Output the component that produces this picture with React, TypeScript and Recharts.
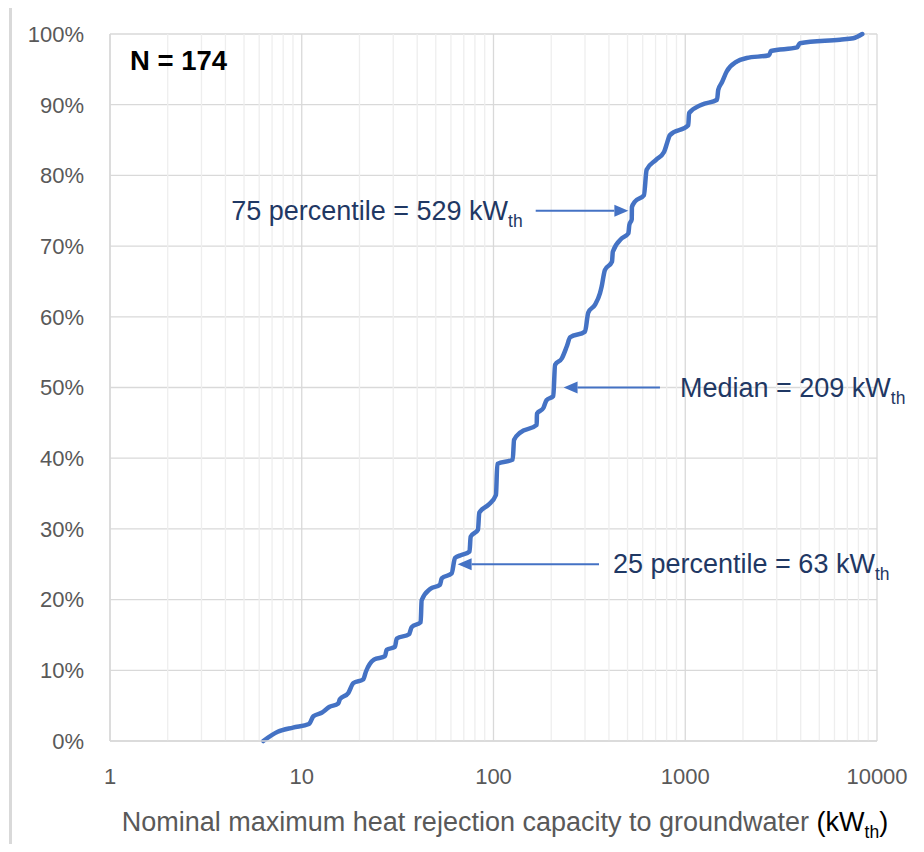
import React from 'react';
import { LineChart, Line, XAxis, YAxis, CartesianGrid, ReferenceLine } from 'recharts';

// Cumulative distribution of nominal heat rejection capacity (kW_th)
const capacityKw = [
  6.3, 7.5, 9.0, 10.9, 11.5, 12.7, 13.9, 15.5, 15.8, 17.5,
  18.6, 20.9, 21.6, 23.8, 27.2, 27.7, 30.6, 31.3, 36.3, 37.4,
  41.7, 42.2, 46.7, 52.6, 53.7, 60.5, 63, 68, 75, 76,
  83, 84.3, 94, 103, 104.7, 126, 128, 137.5, 168, 168.5,
  182, 189, 205, 209.5, 227, 241, 251, 300, 312, 338,
  359, 366, 381, 415, 419, 467, 505, 511, 526, 527,
  547, 609, 629, 704, 775, 800, 832, 1037, 1047, 1218,
  1465, 1486, 1549, 1645, 1855, 2090, 2735, 2800, 3830, 3963,
  6410, 7520, 8380,
];
const cumulativePct = [
  0, 1.3, 1.9, 2.4, 3.5, 4.0, 4.8, 5.3, 5.9, 6.8,
  8.2, 8.7, 9.8, 11.5, 12.0, 12.9, 13.3, 14.5, 15.1, 16.1,
  16.8, 19.9, 21.5, 22.1, 23.0, 23.7, 25.9, 26.3, 26.8, 28.9,
  29.9, 32.3, 33.4, 34.8, 39.2, 39.8, 42.6, 43.6, 44.7, 46.3,
  47.1, 48.2, 48.8, 53.2, 54.1, 55.8, 57.1, 57.9, 60.6, 61.7,
  63.3, 64.2, 66.6, 67.8, 69.2, 71.1, 71.8, 73.0, 73.8, 75.5,
  76.3, 77.2, 80.8, 82.2, 83.3, 84.4, 85.7, 87.1, 88.8, 90.0,
  90.7, 92.1, 93.1, 94.7, 96.1, 96.6, 97.0, 97.6, 98.1, 98.7,
  99.2, 99.4, 100,
];

const xTicks = [1, 10, 100, 1000, 10000];
const yTicks = [0, 10, 20, 30, 40, 50, 60, 70, 80, 90, 100];
const minorX = [
  2, 3, 4, 5, 6, 7, 8, 9,
  20, 30, 40, 50, 60, 70, 80, 90,
  200, 300, 400, 500, 600, 700, 800, 900,
  2000, 3000, 4000, 5000, 6000, 7000, 8000, 9000,
];

// Percentile call-outs: arrow runs from `from` to `to` (kW) at level `pct`
const percentileLabels = ['75 percentile = 529 kW', 'Median = 209 kW', '25 percentile = 63 kW'];
const percentileLevels = [75, 50, 25];
const arrowFrom = [166, 738, 355];
const arrowTo = [505, 232, 65];

const rows = capacityKw.map((kw, i) => ({ kw, pct: cumulativePct[i] }));

const FONT = '"Liberation Sans", Arial, Helvetica, sans-serif';
const BLUE = '#4472C4';
const NAVY = '#1F3864';
const GRID = '#d9d9d9';
const MINOR = '#eeeeee';
const AXIS_TEXT = '#595959';

const makeArrow = (label: string, textSide: 'left' | 'right', gap: number) => (props: any) => {
  const { x1, y1, x2, y2 } = props;
  const dir = Math.sign(x2 - x1);
  const headLen = 14;
  const halfW = 6;
  const baseX = x2 - dir * headLen;
  const textX = textSide === 'left' ? x1 - gap : x1 + gap;
  return (
    <g>
      <line x1={x1} y1={y1} x2={baseX} y2={y2} stroke={BLUE} strokeWidth={2} />
      <polygon points={`${x2},${y2} ${baseX},${y2 - halfW} ${baseX},${y2 + halfW}`} fill={BLUE} />
      <text
        x={textX}
        y={y1 + 9}
        textAnchor={textSide === 'left' ? 'end' : 'start'}
        fill={NAVY}
        fontSize={27}
        fontFamily={FONT}
      >
        {label}
        <tspan dy={7} fontSize={17.5}>th</tspan>
      </text>
    </g>
  );
};

const arrowSides: ('left' | 'right')[] = ['left', 'right', 'right'];
const arrowGaps = [13, 20, 14];

export default function App() {
  return (
    <div
      style={{
        position: 'relative',
        width: 924,
        height: 852,
        margin: -8,
        overflow: 'hidden',
        background: '#ffffff',
        fontFamily: FONT,
      }}
    >
      <div
        style={{
          position: 'absolute',
          left: 9,
          top: 5,
          width: 960,
          height: 920,
          border: `3px solid ${GRID}`,
          boxSizing: 'border-box',
        }}
      />
      <div style={{ position: 'absolute', left: 0, top: 0 }}>
        <LineChart
          width={924}
          height={852}
          data={rows}
          margin={{ top: 34, right: 47, bottom: 51, left: 10 }}
        >
          {minorX.map((v) => (
            <ReferenceLine key={`m${v}`} x={v} stroke={MINOR} strokeWidth={1.3} />
          ))}
          <CartesianGrid stroke={GRID} strokeWidth={1.3} />
          <XAxis
            dataKey="kw"
            type="number"
            scale="log"
            domain={[1, 10000]}
            ticks={xTicks}
            allowDataOverflow
            height={60}
            axisLine={{ stroke: GRID, strokeWidth: 1.5 }}
            tickLine={false}
            tickSize={0}
            tickMargin={27}
            tick={{ fill: AXIS_TEXT, fontSize: 22, fontFamily: FONT }}
            interval={0}
          />
          <YAxis
            type="number"
            domain={[0, 100]}
            ticks={yTicks}
            width={100}
            axisLine={{ stroke: GRID, strokeWidth: 1.5 }}
            tickLine={false}
            tickSize={0}
            tickMargin={26}
            tickFormatter={(v: number) => `${v}%`}
            tick={{ fill: AXIS_TEXT, fontSize: 22, fontFamily: FONT }}
            interval={0}
          />
          <Line
            type="monotone"
            dataKey="pct"
            stroke={BLUE}
            strokeWidth={4.5}
            strokeLinecap="round"
            strokeLinejoin="round"
            dot={false}
            activeDot={false}
            isAnimationActive={false}
          />
          {percentileLabels.map((label, i) => (
            <ReferenceLine
              key={label}
              segment={[
                { x: arrowFrom[i], y: percentileLevels[i] },
                { x: arrowTo[i], y: percentileLevels[i] },
              ]}
              shape={makeArrow(label, arrowSides[i], arrowGaps[i])}
            />
          ))}
        </LineChart>
      </div>
      <svg
        width={924}
        height={852}
        style={{ position: 'absolute', left: 0, top: 0, pointerEvents: 'none' }}
      >
        <text x={130} y={70} fontSize={27.5} fontWeight="bold" fill="#000000" fontFamily={FONT}>
          N = 174
        </text>
        <text x={505} y={831} textAnchor="middle" fontSize={27} fontFamily={FONT}>
          <tspan fill={AXIS_TEXT}>Nominal maximum heat rejection capacity to groundwater </tspan>
          <tspan fill="#000000">(kW</tspan>
          <tspan fill="#000000" dy={7} fontSize={17.5}>th</tspan>
          <tspan fill="#000000" dy={-7}>)</tspan>
        </text>
      </svg>
    </div>
  );
}
